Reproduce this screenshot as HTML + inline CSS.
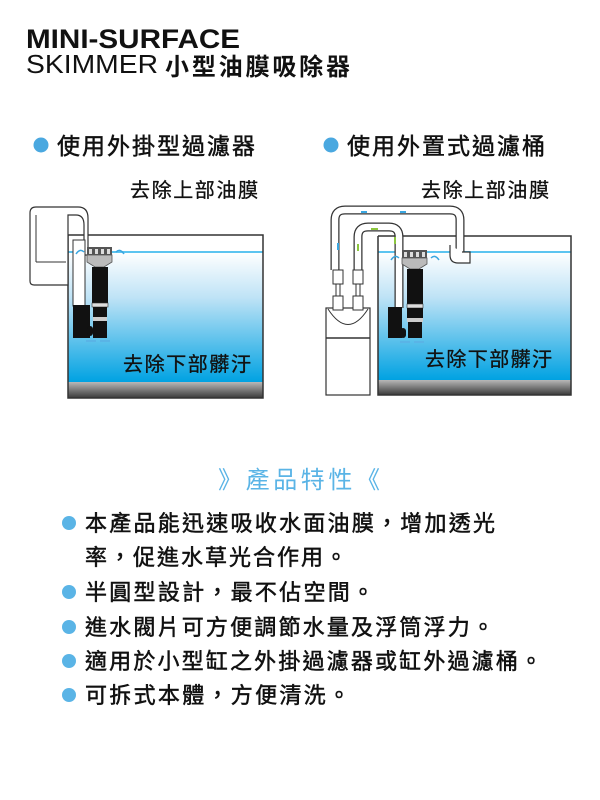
<!DOCTYPE html>
<html><head><meta charset="utf-8"><style>
html,body{margin:0;padding:0;background:#fff;}
svg{display:block;}
text{font-family:"Liberation Sans","Noto Sans CJK TC",sans-serif;}
</style></head><body>
<svg width="600" height="800" viewBox="0 0 600 800" xmlns="http://www.w3.org/2000/svg">
<defs>
<linearGradient id="w" x1="0" y1="0" x2="0" y2="1">
<stop offset="0" stop-color="#ffffff"/><stop offset="0.35" stop-color="#bfe3f6"/><stop offset="1" stop-color="#00a2e2"/>
</linearGradient>
<linearGradient id="g" x1="0" y1="0" x2="0" y2="1">
<stop offset="0" stop-color="#b8b8b8"/><stop offset="1" stop-color="#3a3a3a"/>
</linearGradient>
</defs>
<!-- Title -->
<text x="26" y="48" font-size="27" font-weight="bold" fill="#111" textLength="214" lengthAdjust="spacingAndGlyphs">MINI-SURFACE</text>
<text x="26" y="73" font-size="26" fill="#111" textLength="132" lengthAdjust="spacingAndGlyphs">SKIMMER</text>
<text x="165" y="75" font-size="24" font-weight="bold" fill="#111" textLength="185" lengthAdjust="spacing">小型油膜吸除器</text>

<g stroke="#111" stroke-width="0.5">
<circle cx="41" cy="145" r="7.5" fill="#4aa8e0" stroke="none"/>
<text x="57" y="154" font-size="23" fill="#111" textLength="198" lengthAdjust="spacing">使用外掛型過濾器</text>
<circle cx="331" cy="145" r="7.5" fill="#4aa8e0" stroke="none"/>
<text x="347" y="154" font-size="23" fill="#111" textLength="198" lengthAdjust="spacing">使用外置式過濾桶</text>
<text x="130" y="197" font-size="20" fill="#111" stroke-width="0.3" textLength="128" lengthAdjust="spacing">去除上部油膜</text>
<text x="421" y="197" font-size="20" fill="#111" stroke-width="0.3" textLength="128" lengthAdjust="spacing">去除上部油膜</text>
</g>

<!-- Diagram 1 -->
<rect x="68" y="252" width="195" height="130" fill="url(#w)"/>
<rect x="68" y="382" width="195" height="16" fill="url(#g)"/>
<line x1="68" y1="252" x2="263" y2="252" stroke="#5cc4f0" stroke-width="2"/>
<path d="M68 235 V398 H263 V235 H68" fill="none" stroke="#333" stroke-width="1.5"/>
<path d="M30 213 Q30 207 36 207 H78 Q88 207 88 218 V255 H84 V225 Q84 215 76 215 H68 V285 H34 Q30 285 30 281 Z" fill="#fff" stroke="#333" stroke-width="1.2"/>
<line x1="36" y1="215" x2="36" y2="262" stroke="#333"/>
<line x1="36" y1="262" x2="66" y2="262" stroke="#333"/>
<rect x="73" y="240" width="12" height="66" fill="#fff" stroke="#333"/>
<rect x="73" y="305" width="17" height="33" fill="#111"/>
<rect x="87" y="326" width="6" height="10" rx="3" fill="#111"/>
<rect x="87" y="247" width="25" height="8" fill="#555"/>
<rect x="89" y="249" width="3" height="5" fill="#ddd"/><rect x="95" y="249" width="3" height="5" fill="#ddd"/><rect x="101" y="249" width="3" height="5" fill="#ddd"/><rect x="107" y="249" width="3" height="5" fill="#ddd"/>
<path d="M87 255 H112 V262 L104 267 H95 L87 262 Z" fill="#bbb" stroke="#555" stroke-width="0.8"/>
<rect x="92" y="267" width="16" height="36" fill="#111"/>
<rect x="92" y="303" width="16" height="4" fill="#ddd" stroke="#333" stroke-width="0.6"/>
<rect x="93" y="307" width="14" height="10" fill="#111"/>
<rect x="93" y="317" width="14" height="4" fill="#ccc"/>
<rect x="93" y="321" width="14" height="17" fill="#111"/>
<path d="M84 252 q-4 -4 -8 2 M116 252 q4 -4 8 2" stroke="#3aa6e0" stroke-width="1.5" fill="none"/>
<path d="M86 341 h10 M100 341 h10" stroke="#5ab4e6" stroke-width="2"/>
<text x="123" y="371" font-size="20" fill="#111" stroke="#111" stroke-width="0.3" textLength="128" lengthAdjust="spacing">去除下部髒汙</text>

<!-- Diagram 2 -->
<rect x="378" y="252" width="193" height="128" fill="url(#w)"/>
<rect x="378" y="380" width="193" height="15" fill="url(#g)"/>
<line x1="378" y1="252" x2="571" y2="252" stroke="#5cc4f0" stroke-width="2"/>
<path d="M378 236 V395 H571 V236 H378" fill="none" stroke="#333" stroke-width="1.5"/>
<path d="M335 270 V220 Q335 210 345 210 H450 Q460 210 460 220 V252" fill="none" stroke="#333" stroke-width="9"/>
<path d="M335 270 V220 Q335 210 345 210 H450 Q460 210 460 220 V252" fill="none" stroke="#fff" stroke-width="6.5"/>
<path d="M450 245 V255 Q450 263 458 263 H470 V252 H462" fill="#fff" stroke="#333" stroke-width="1.2"/>
<path d="M358 270 V237 Q358 227 368 227 H389 Q399 227 399 237 V308" fill="none" stroke="#333" stroke-width="9"/>
<path d="M358 270 V237 Q358 227 368 227 H389 Q399 227 399 237 V308" fill="none" stroke="#fff" stroke-width="6.5"/>
<path d="M361 212 h6 M400 212 h6" stroke="#3aa6e0" stroke-width="2"/>
<path d="M378 229 h-7" stroke="#8cc63f" stroke-width="2"/>
<path d="M338 250 v-7" stroke="#3aa6e0" stroke-width="2"/>
<path d="M358 244 v7" stroke="#8cc63f" stroke-width="2"/>
<path d="M395 244 v-7" stroke="#8cc63f" stroke-width="2"/>
<rect x="326" y="308" width="44" height="87" fill="#fff" stroke="#333" stroke-width="1.2"/>
<path d="M328 309 Q348 340 368 309" fill="none" stroke="#333"/>
<line x1="326" y1="338" x2="370" y2="338" stroke="#333" stroke-width="1.5"/>
<rect x="333" y="270" width="10" height="14" fill="#fff" stroke="#333"/>
<rect x="333" y="296" width="10" height="14" fill="#fff" stroke="#333"/>
<rect x="353" y="270" width="10" height="14" fill="#fff" stroke="#333"/>
<rect x="353" y="296" width="10" height="14" fill="#fff" stroke="#333"/>
<rect x="336" y="284" width="4" height="12" fill="#fff" stroke="#333"/>
<rect x="356" y="284" width="4" height="12" fill="#fff" stroke="#333"/>
<rect x="388" y="307" width="14" height="31" fill="#111"/>
<rect x="400" y="328" width="6" height="10" rx="3" fill="#111"/>
<rect x="402" y="250" width="25" height="8" fill="#555"/>
<rect x="404" y="252" width="3" height="5" fill="#ddd"/><rect x="410" y="252" width="3" height="5" fill="#ddd"/><rect x="416" y="252" width="3" height="5" fill="#ddd"/><rect x="422" y="252" width="3" height="5" fill="#ddd"/>
<path d="M402 258 H427 V264 L419 269 H410 L402 264 Z" fill="#bbb" stroke="#555" stroke-width="0.8"/>
<rect x="407" y="269" width="16" height="36" fill="#111"/>
<rect x="407" y="304" width="16" height="4" fill="#ddd" stroke="#333" stroke-width="0.6"/>
<rect x="407" y="308" width="16" height="10" fill="#111"/>
<rect x="407" y="318" width="16" height="4" fill="#ccc"/>
<rect x="408" y="322" width="14" height="16" fill="#111"/>
<path d="M399 258 q-4 -4 -8 2 M431 258 q4 -4 8 2" stroke="#3aa6e0" stroke-width="1.5" fill="none"/>
<path d="M400 342 h10 M414 342 h10" stroke="#5ab4e6" stroke-width="2"/>
<text x="425" y="366" font-size="20" fill="#111" stroke="#111" stroke-width="0.3" textLength="127" lengthAdjust="spacing">去除下部髒汙</text>

<!-- features -->
<text x="218" y="488" font-size="24" fill="#5ab4e6" textLength="162" lengthAdjust="spacing">》產品特性《</text>
<g font-size="22" fill="#111" stroke="#111" stroke-width="0.5">
<circle cx="69" cy="523" r="7" fill="#5ab4e6" stroke="none"/>
<text x="85" y="531" textLength="410" lengthAdjust="spacing">本產品能迅速吸收水面油膜，增加透光</text>
<text x="85" y="565" textLength="262" lengthAdjust="spacing">率，促進水草光合作用。</text>
<circle cx="69" cy="592" r="7" fill="#5ab4e6" stroke="none"/>
<text x="85" y="600" textLength="289" lengthAdjust="spacing">半圓型設計，最不佔空間。</text>
<circle cx="69" cy="627" r="7" fill="#5ab4e6" stroke="none"/>
<text x="85" y="635" textLength="409" lengthAdjust="spacing">進水閥片可方便調節水量及浮筒浮力。</text>
<circle cx="69" cy="661" r="7" fill="#5ab4e6" stroke="none"/>
<text x="85" y="669" textLength="457" lengthAdjust="spacing">適用於小型缸之外掛過濾器或缸外過濾桶。</text>
<circle cx="69" cy="695" r="7" fill="#5ab4e6" stroke="none"/>
<text x="85" y="703" textLength="265" lengthAdjust="spacing">可拆式本體，方便清洗。</text>
</g>
</svg>
</body></html>
